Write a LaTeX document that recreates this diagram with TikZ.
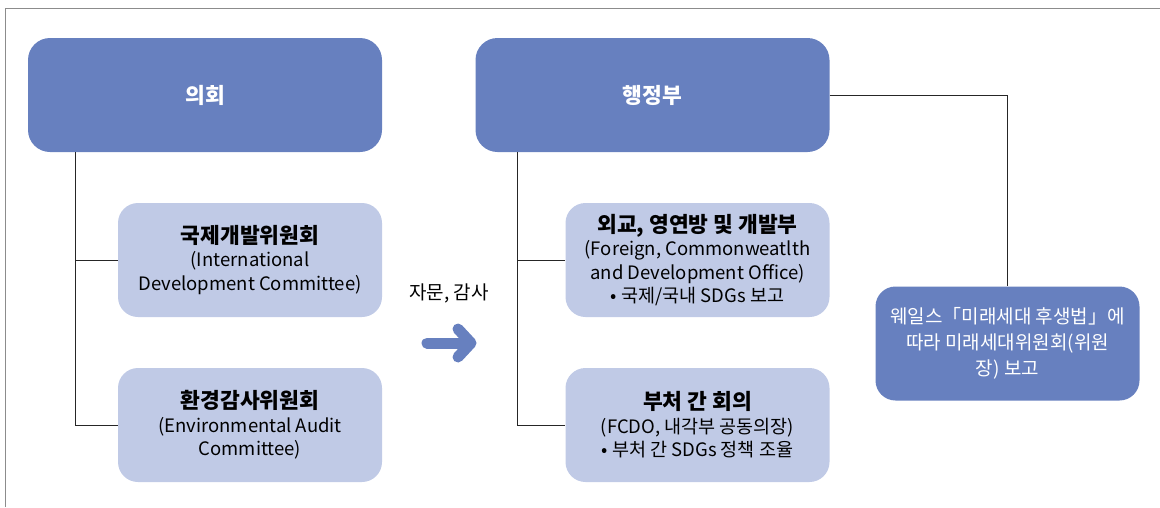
\documentclass[tikz,border=0pt]{standalone}
\usepackage{fontspec}
\setmainfont{Noto Sans CJK KR}
\definecolor{darkblue}{RGB}{103,128,191}
\definecolor{paleblue}{RGB}{192,202,230}
\definecolor{framegray}{RGB}{140,140,140}
\begin{document}
\begin{tikzpicture}[x=1pt,y=-1pt,
  headbox/.style={rounded corners=22pt, fill=darkblue, text=white,
    minimum width=354pt, minimum height=114pt, align=center,
    font=\fontsize{21.5}{26}\selectfont\bfseries},
  unitbox/.style={rounded corners=20pt, fill=paleblue, text=black,
    minimum width=264pt, minimum height=114pt, align=center,
    font=\fontsize{18.5}{23.5}\selectfont},
  reportbox/.style={unitbox, fill=darkblue, text=white,
    font=\fontsize{19}{26}\selectfont},
  link/.style={draw=black!85, line width=0.9pt}]

  % frame of the page
  \useasboundingbox (0,0) rectangle (1160,507);
  \draw[framegray, line width=1pt] (5,507) -- (5,8) -- (1160,8);

  % parliament side
  \node[headbox] (parl) at (205,95) {의회};
  \node[unitbox] (idc) at (250,260)
    {{\fontsize{21.5}{26}\selectfont\bfseries 국제개발위원회}\\(International\\Development Committee)};
  \node[unitbox] (eac) at (250,425)
    {{\fontsize{21.5}{26}\selectfont\bfseries 환경감사위원회}\\(Environmental Audit\\Committee)};

  \coordinate (pl) at (75,0);
  \draw[link] (pl |- parl.south) -- (pl |- eac.west) -- (eac.west);
  \draw[link] (pl |- idc.west) -- (idc.west);

  % government side
  \node[headbox] (exec) at (652.5,95) {행정부};
  \node[unitbox] (fcdo) at (697.5,260)
    {{\fontsize{21.5}{26}\selectfont\bfseries 외교, 영연방 및 개발부}\\(Foreign, Commonweatlth\\and Development Office)\\• 국제/국내 SDGs 보고};
  \node[unitbox] (imm) at (697.5,425)
    {{\fontsize{21.5}{26}\selectfont\bfseries 부처 간 회의}\\(FCDO, 내각부 공동의장)\\• 부처 간 SDGs 정책 조율};

  \coordinate (gl) at (517,0);
  \draw[link] (gl |- exec.south) -- (gl |- imm.west) -- (imm.west);
  \draw[link] (gl |- fcdo.west) -- (fcdo.west);

  % wales
  \node[reportbox] (wales) at (1007.5,343.5)
    {웨일스「미래세대 후생법」에\\따라 미래세대위원회(위원\\장) 보고};
  \draw[link] (exec.east) -- (exec.east -| wales.north) -- (wales.north);

  % advice arrow
  \node[font=\fontsize{19}{24}\selectfont] (advice) at (449,293) {자문, 감사};
  \coordinate (arr) at (448,343);
  \draw[darkblue, line width=11pt, line cap=round]
    ([xshift=-21pt]arr) -- ([xshift=18pt]arr);
  \draw[darkblue, line width=11pt, line cap=round, line join=round]
    ([xshift=10pt,yshift=-14pt]arr) -- ([xshift=23pt]arr) -- ([xshift=10pt,yshift=14pt]arr);
\end{tikzpicture}
\end{document}
